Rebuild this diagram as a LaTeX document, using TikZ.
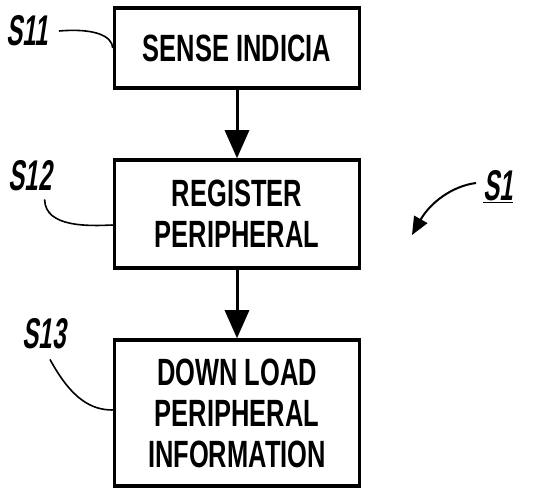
\documentclass[tikz,border=0pt]{standalone}
\usepackage{fontspec}
\setmainfont{Liberation Sans}[FakeStretch=0.67]
\newfontfamily\labelfont{Liberation Sans}[FakeStretch=0.56, FakeSlant=0.15]
\usetikzlibrary{arrows.meta}
\tikzset{
  stepbox/.style={draw, line width=3.5pt, minimum width=245pt, align=center,
    inner sep=0pt, font=\bfseries\fontsize{38}{41}\selectfont},
  steplabel/.style={inner sep=0pt, font=\labelfont\bfseries\fontsize{43}{40}\selectfont},
  flow/.style={line width=3pt, -{Triangle[width=24pt,length=28pt]}},
  leader/.style={line width=1.6pt}
}
\begin{document}
\begin{tikzpicture}[x=1pt,y=-1pt]
    \useasboundingbox (0,0) rectangle (552,489);
    \node[stepbox, minimum height=80pt] (sense) at (237,48) {SENSE INDICIA};
    \node[stepbox, minimum height=108pt] (register) at (237,214) {REGISTER\\PERIPHERAL};
    \node[stepbox, minimum height=146pt] (download) at (237,413) {DOWN LOAD\\PERIPHERAL\\INFORMATION};
    \draw[flow] (sense) -- (register);
    \draw[flow] (register) -- (download);

    \node[steplabel] (s11) at (27,31) {S11};
    \node[steplabel] (s12) at (30,176) {S12};
    \node[steplabel] (s13) at (44,334) {S13};
    \draw[leader] ([xshift=11pt]s11.east) .. controls (95,28) and (112,36) .. (sense.west);
    \draw[leader] ([xshift=-7pt,yshift=-8pt]s12.south east) .. controls (45,228) and (90,226) .. ([yshift=-11pt]register.west);
    \draw[leader] ([xshift=6pt,yshift=-10pt]s13.south) .. controls (72,400) and (92,410) .. ([yshift=3pt]download.west);

    \node[steplabel] (s1) at (498,187) {\underline{S1}};
    \coordinate (s1tip) at (412,235);
    \draw[line width=2pt, -{Triangle[width=15pt,length=18pt]}] ([xshift=-7pt,yshift=4pt]s1.west) .. controls (452,186) and (430,203) .. (s1tip);
\end{tikzpicture}
\end{document}
